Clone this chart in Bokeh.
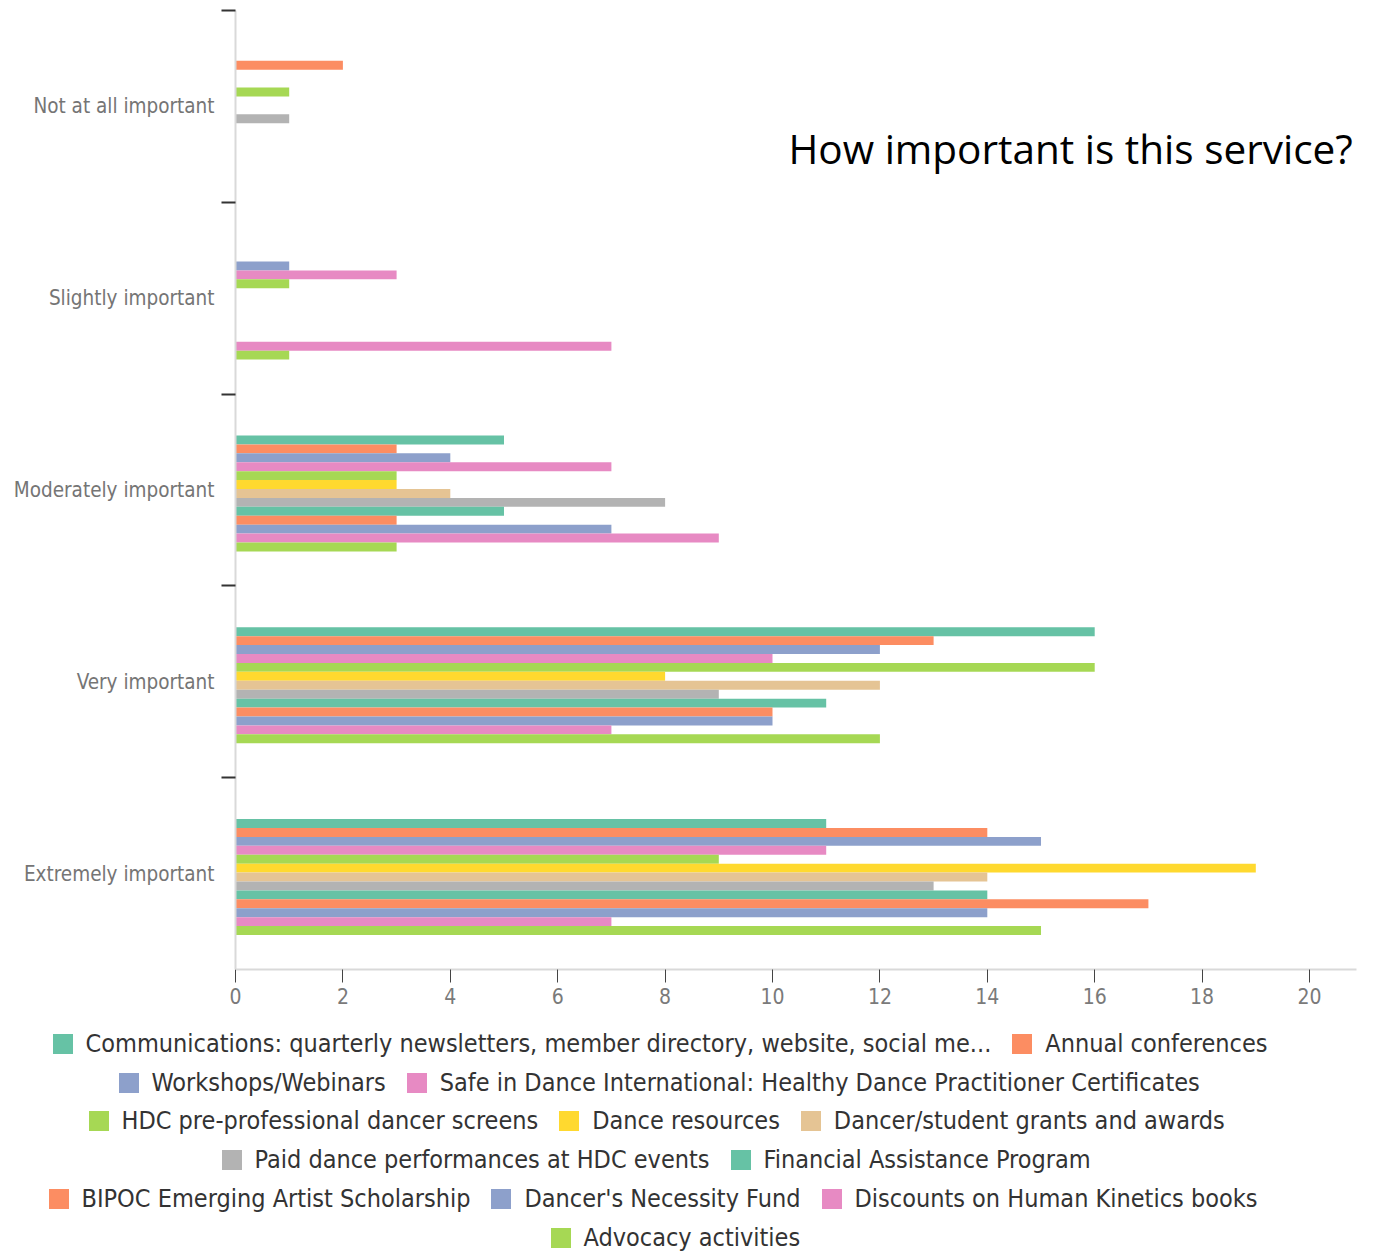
from bokeh.plotting import figure
from bokeh.layouts import column
from bokeh.models import (ColumnDataSource, Range1d, FixedTicker, Legend,
                          LegendItem, Label)
from bokeh.transform import dodge
from bokeh.embed import file_html
from bokeh.resources import INLINE

categories = ["Not at all important", "Slightly important", "Moderately important",
              "Very important", "Extremely important"]

series_names = [
    "Communications: quarterly newsletters, member directory, website, social me...",
    "Annual conferences",
    "Workshops/Webinars",
    "Safe in Dance International: Healthy Dance Practitioner Certificates",
    "HDC pre-professional dancer screens",
    "Dance resources",
    "Dancer/student grants and awards",
    "Paid dance performances at HDC events",
    "Financial Assistance Program",
    "BIPOC Emerging Artist Scholarship",
    "Dancer's Necessity Fund",
    "Discounts on Human Kinetics books",
    "Advocacy activities",
]

v_communications = [0, 0, 5, 16, 11]
v_conferences = [2, 0, 3, 13, 14]
v_workshops = [0, 1, 4, 12, 15]
v_safe_in_dance = [0, 3, 7, 10, 11]
v_hdc_screens = [1, 1, 3, 16, 9]
v_dance_resources = [0, 0, 3, 8, 19]
v_grants = [0, 0, 4, 12, 14]
v_paid_performances = [1, 0, 8, 9, 13]
v_financial_assistance = [0, 0, 5, 11, 14]
v_bipoc = [0, 0, 3, 10, 17]
v_necessity_fund = [0, 0, 7, 10, 14]
v_discounts = [0, 7, 9, 7, 7]
v_advocacy = [0, 1, 3, 12, 15]

series_values = [v_communications, v_conferences, v_workshops, v_safe_in_dance,
                 v_hdc_screens, v_dance_resources, v_grants, v_paid_performances,
                 v_financial_assistance, v_bipoc, v_necessity_fund, v_discounts,
                 v_advocacy]

x_ticks = [0, 2, 4, 6, 8, 10, 12, 14, 16, 18, 20]

colors = ["#66c2a5", "#fc8d62", "#8da0cb", "#e78ac3", "#a6d854", "#ffd92f",
          "#e5c494", "#b3b3b3", "#66c2a5", "#fc8d62", "#8da0cb", "#e78ac3",
          "#a6d854"]

NARROW = "Liberation Sans Narrow, DejaVu Sans Condensed, sans-serif"

W = 1389
frame_left, frame_top, frame_right, frame_bottom = 235, 10, 1356, 969
MAIN_H = 1010
LEG_H = 1252 - MAIN_H

p = figure(width=W, height=MAIN_H, output_backend="svg", toolbar_location=None,
           x_range=Range1d(0, 20.875), y_range=Range1d(len(categories), 0),
           min_border_left=frame_left, min_border_right=W - frame_right,
           min_border_top=frame_top, min_border_bottom=MAIN_H - frame_bottom)
p.outline_line_color = None
p.xgrid.visible = False
p.ygrid.visible = False
p.frame_align = False

cat_pos = [i + 0.5 for i in range(len(categories))]
step = 0.0465
shift = 0.018
n = len(series_names)

# legend strip below the chart (its own frame, so the legend is not clipped)
pl = figure(width=W, height=LEG_H, output_backend="svg", toolbar_location=None,
            x_range=Range1d(0, 20.875), y_range=Range1d(len(categories), 0),
            x_axis_type=None, y_axis_type=None,
            min_border_left=0, min_border_right=0, min_border_top=0, min_border_bottom=0)
pl.outline_line_color = None
pl.xgrid.visible = False
pl.ygrid.visible = False
pl.frame_align = False

items = []
for s in range(n):
    src = ColumnDataSource(dict(pos=cat_pos, val=series_values[s]))
    ydodge = dodge("pos", (s - (n - 1) / 2) * step + shift)
    p.hbar(y=ydodge, left=0, right="val", height=step, fill_color=colors[s],
           line_color=None, source=src)
    rl = pl.hbar(y=ydodge, left=0, right="val", height=step, fill_color=colors[s],
                 line_color=None, source=src, visible=False)
    items.append(LegendItem(label=series_names[s], renderers=[rl]))

# x axis
xa = p.xaxis[0]
xa.ticker = FixedTicker(ticks=x_ticks)
xa.axis_line_color = "#d9d9d9"
xa.axis_line_width = 2
xa.major_tick_in = 0
xa.major_tick_out = 13
xa.major_tick_line_color = "#444444"
xa.major_tick_line_width = 1
xa.minor_tick_line_color = None
xa.major_label_standoff = 5
xa.major_label_text_font = NARROW
xa.major_label_text_font_size = "21px"
xa.major_label_text_color = "#7a7a7a"

# y axis: labels at band centres, tick marks at band boundaries
ya = p.yaxis[0]
ya.ticker = FixedTicker(ticks=cat_pos, minor_ticks=list(range(len(categories))))
ya.major_label_overrides = {c: lab for c, lab in zip(cat_pos, categories)}
ya.axis_line_color = "#d9d9d9"
ya.axis_line_width = 2
ya.major_tick_line_color = None
ya.major_tick_in = 0
ya.major_tick_out = 0
ya.minor_tick_in = 0
ya.minor_tick_out = 14
ya.minor_tick_line_color = "#333333"
ya.minor_tick_line_width = 2
ya.major_label_standoff = 7
ya.major_label_text_font = NARROW
ya.major_label_text_font_size = "20.5px"
ya.major_label_text_color = "#757575"

# legend rows (flow layout, centred)
rows = [[0, 1], [2, 3], [4, 5, 6], [7, 8], [9, 10, 11], [12]]
row_left = [52, 118, 88, 221, 48, 550]
row_center = [1043, 1082, 1120, 1159, 1198, 1237]
leg_h = 30
for idxs, xl, yc in zip(rows, row_left, row_center):
    leg = Legend(items=[items[i] for i in idxs], orientation="horizontal",
                 location=(xl - 2.5, 1252 - (yc + leg_h / 2)),
                 padding=0, margin=0, spacing=18, glyph_width=25, glyph_height=25,
                 label_standoff=11, label_height=25,
                 label_text_font=NARROW, label_text_font_size="25px",
                 label_text_color="#333333", border_line_color=None,
                 background_fill_alpha=0, inactive_fill_alpha=0,
                 click_policy="none")
    pl.add_layout(leg, "center")

title = Label(x=788 - frame_left, y=frame_bottom - 148, x_units="screen", y_units="screen",
              text="How important is this service?", text_font="Open Sans",
              text_font_size="40.5px", text_color="black", text_baseline="middle")
p.add_layout(title)

layout = column(p, pl, spacing=0)
open("out.html", "w").write(file_html(layout, INLINE))
